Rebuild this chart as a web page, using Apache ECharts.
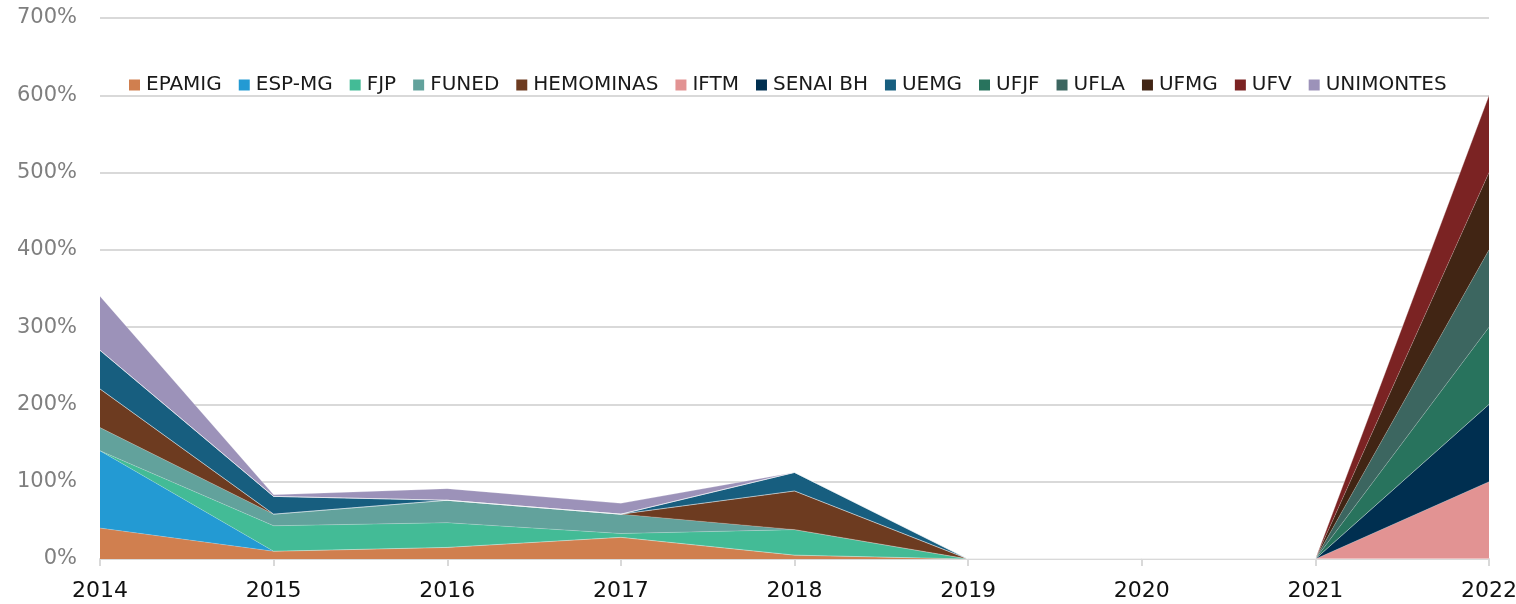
<!DOCTYPE html>
<html>
<head>
<meta charset="utf-8">
<script src="https://cdn.jsdelivr.net/npm/echarts@6/dist/echarts.min.js"></script>
<style>
	html, body { margin: 0; padding: 0; background: #fff; }
	#main { width: 1516px; height: 604px; }
</style>
</head>
<body>
<div id="main"></div>
<script>
// categories
const years = ['2014', '2015', '2016', '2017', '2018', '2019', '2020', '2021', '2022'];

// series values (%), stacked bottom to top
const epamig = [40, 10, 15, 28, 5, 0, 0, 0, 0];
const espMg = [100, 0, 0, 0, 0, 0, 0, 0, 0];
const fjp = [0, 33, 32, 5, 33, 0, 0, 0, 0];
const funed = [30, 15, 29, 25, 0, 0, 0, 0, 0];
const hemominas = [50, 0, 0, 0, 50, 0, 0, 0, 0];
const iftm = [0, 0, 0, 0, 0, 0, 0, 0, 100];
const senaiBh = [0, 0, 0, 0, 0, 0, 0, 0, 100];
const uemg = [50, 23, 0, 0, 24, 0, 0, 0, 0];
const ufjf = [0, 0, 0, 0, 0, 0, 0, 0, 100];
const ufla = [0, 0, 0, 0, 0, 0, 0, 0, 100];
const ufmg = [0, 0, 0, 0, 0, 0, 0, 0, 100];
const ufv = [0, 0, 0, 0, 0, 0, 0, 0, 100];
const unimontes = [70, 2, 15, 14, 0, 0, 0, 0, 0];

const seriesList = [
	{ name: 'EPAMIG', data: epamig, color: '#D07F4F' },
	{ name: 'ESP-MG', data: espMg, color: '#239AD3' },
	{ name: 'FJP', data: fjp, color: '#43BB96' },
	{ name: 'FUNED', data: funed, color: '#62A29C' },
	{ name: 'HEMOMINAS', data: hemominas, color: '#6D3B20' },
	{ name: 'IFTM', data: iftm, color: '#E29393' },
	{ name: 'SENAI BH', data: senaiBh, color: '#002F50' },
	{ name: 'UEMG', data: uemg, color: '#175E7F' },
	{ name: 'UFJF', data: ufjf, color: '#28735D' },
	{ name: 'UFLA', data: ufla, color: '#3C6660' },
	{ name: 'UFMG', data: ufmg, color: '#412514' },
	{ name: 'UFV', data: ufv, color: '#7B2323' },
	{ name: 'UNIMONTES', data: unimontes, color: '#9C92B9' }
];

const myChart = echarts.init(document.getElementById('main'));
const font = 'DejaVu Sans';

const option = {
	animation: false,
	color: seriesList.map((s) => s.color),
	grid: { left: 100, right: 27, top: 18, bottom: 45, outerBoundsMode: 'none', containLabel: false },
	legend: {
		top: 70,
		left: 124,
		icon: 'rect',
		itemWidth: 11,
		itemHeight: 11,
		itemGap: 17,
		textStyle: { fontFamily: font, fontSize: 20, color: '#1a1a1a', padding: [0, 0, 0, 1] },
		data: seriesList.map((s) => s.name)
	},
	xAxis: {
		type: 'category',
		data: years,
		boundaryGap: false,
		axisLine: { lineStyle: { color: '#d9d9d9', width: 2 } },
		axisTick: { show: true, length: 7, lineStyle: { color: '#d9d9d9', width: 2 } },
		axisLabel: { fontFamily: font, fontSize: 22, color: '#111', margin: 21 }
	},
	yAxis: {
		type: 'value',
		min: 0,
		max: 700,
		interval: 100,
		axisLine: { show: false },
		axisTick: { show: false },
		axisLabel: { fontFamily: font, fontSize: 21, color: '#7f7f7f', margin: 23, formatter: '{value}%' },
		splitLine: { lineStyle: { color: '#d9d9d9', width: 2 } }
	},
	series: seriesList.map((s) => {
		return {
			name: s.name,
			type: 'line',
			stack: 'total',
			symbol: 'none',
			data: s.data,
			lineStyle: { width: 0.6, color: 'rgba(255,255,255,0.35)' },
			areaStyle: { color: s.color, opacity: 1 },
			itemStyle: { color: s.color }
		};
	})
};

myChart.setOption(option);
</script>
</body>
</html>
